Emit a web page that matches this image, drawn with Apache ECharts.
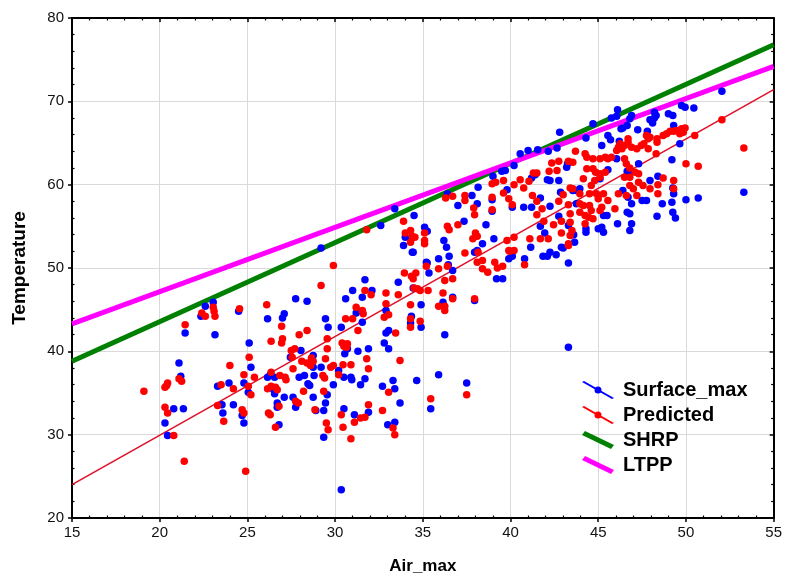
<!DOCTYPE html>
<html>
<head>
<meta charset="utf-8">
<script src="https://cdn.jsdelivr.net/npm/echarts@6/dist/echarts.min.js"></script>
<style>
html,body{margin:0;padding:0;background:#fff;}
#chart{width:785px;height:580px;}
</style>
</head>
<body>
<div id="chart"></div>
<script>
// Surface_max observations [Air_max, Temperature]
const surfaceMax = [
[20.3,31.4],[20.45,29.9],[20.8,33.1],[21.35,33.1],[21.1,38.6],[21.2,37.0],[21.45,42.2],[22.35,44.2],[22.6,45.4],[23.05,45.9],[23.15,42.0],[23.3,35.8],[23.95,36.2],[23.55,33.6],[23.6,32.6],[24.2,33.6],[24.7,32.3],[24.8,31.4],[24.8,36.2],[24.5,44.8],[25.1,41.0],[25.2,38.1],[25.05,35.1],
[26.15,43.9],[27.0,44.0],[27.1,44.5],[27.75,46.3],[28.4,46.0],[27.45,39.3],[28.05,40.1],[28.75,39.5],[28.75,38.1],[29.2,38.1],[26.15,36.9],[26.3,37.2],[26.55,36.9],[26.5,35.4],[26.55,34.9],[26.7,33.8],[26.7,33.3],[26.8,31.2],[27.1,34.5],[27.6,34.5],[27.75,33.3],[27.95,36.9],[28.25,37.1],[28.45,36.1],[28.55,35.9],[28.8,37.1],[28.75,34.5],[28.9,32.9],[29.35,32.9],[29.45,33.8],[29.55,34.8],[29.35,29.7],[29.9,36.0],[30.2,37.7],[30.5,36.9],[30.35,42.9],[30.6,46.3],[30.55,39.7],[30.5,33.1],[30.35,23.4],[29.45,43.9],[29.6,42.9],
[29.2,52.4],[31.7,48.6],[31.0,47.3],[32.1,47.3],
[31.55,46.5],[31.2,44.6],[31.55,43.5],[30.7,40.3],[31.3,40.0],[31.9,40.3],[30.9,36.9],[30.95,36.6],[31.45,36.0],[31.7,36.7],[31.1,32.4],[31.9,32.7],[32.7,35.8],[33.3,36.5],[33.4,35.5],[33.7,33.8],[33.0,31.2],[33.4,31.5],[34.65,36.5],[35.9,37.2],[35.45,33.1],[37.5,36.2],[32.8,41.0],[33.05,40.3],[32.9,42.2],[33.05,42.5],[32.9,44.9],[33.6,48.3],[34.45,51.9],[35.2,50.7],[35.35,49.4],[35.9,51.1],[36.5,51.4],[36.7,49.7],[34.45,47.6],[34.35,44.2],[34.3,43.4],[34.9,42.9],[34.9,45.6],[36.15,45.9],[36.7,46.5],[36.25,42.0],[37.95,46.1],[37.95,51.9],[38.1,52.1],[39.2,48.7],[39.55,48.7],[39.9,51.1],[40.1,51.4],[40.8,51.1],[41.15,52.5],[41.85,51.4],[42.1,51.4],[42.6,51.6],
[32.6,55.1],[33.4,57.1],[34.5,56.3],[35.1,54.9],[35.25,54.4],[33.9,52.7],[34.0,53.7],[34.4,51.9],[35.25,50.6],[36.35,52.5],[36.2,53.3],[36.45,50.4],[37.0,57.5],[37.35,55.6],[38.15,59.7],[37.8,58.7],[38.1,57.7],[38.95,58.2],[39.0,61.0],[39.5,61.6],[39.7,61.7],[40.2,62.3],[40.55,63.7],[41.0,64.1],[41.55,64.2],[42.15,64.0],[42.8,66.3],[42.65,64.4],[43.25,62.5],[38.6,55.2],[38.95,56.8],[39.05,53.5],[39.8,59.4],[40.1,57.3],[38.4,52.9],[42.25,51.9],[42.9,52.5],[40.75,57.3],[41.2,57.3],[41.7,58.4],[42.25,60.5],[42.75,60.5],[42.85,59.1],[42.25,57.4],[42.75,56.2],[43.3,55.1],[41.7,55.0],[41.95,54.2],[43.6,54.0],[41.2,60.8],[41.4,61.2],[42.1,60.6],[36.4,58.9],[34.35,53.5],
[52.05,71.2],[53.3,59.1],[49.75,69.5],[49.95,69.3],[50.45,69.2],[49.0,68.5],[49.25,68.3],[48.2,68.7],[48.3,68.3],[47.95,67.8],[48.1,67.4],[48.2,68.0],[49.3,67.1],[46.1,69.0],[46.05,68.2],[46.9,68.3],[46.8,67.9],[46.65,67.1],[46.4,66.8],[46.3,66.7],[47.25,66.6],[44.7,67.3],[45.75,68.0],[45.55,65.9],[45.7,65.4],[46.2,65.2],[44.3,65.6],[47.8,66.4],[49.65,64.9],[45.2,64.7],[49.2,63.0],[45.55,61.8],[46.65,61.6],[46.85,61.6],[45.1,60.7],[43.55,59.3],[47.3,62.5],[48.4,61.0],[49.25,59.6],[49.3,58.9],[47.95,60.5],[47.75,58.1],[47.5,58.1],[46.9,57.7],[46.4,59.3],[46.7,58.5],[48.65,57.7],[48.35,56.2],[49.2,57.9],[49.25,56.7],[49.4,56.0],[50.0,58.2],[50.7,58.4],[46.8,56.5],[46.65,56.7],[46.9,55.3],[46.8,54.5],[46.1,55.3],[45.3,56.3],[45.5,56.3],[43.75,59.3],[43.95,59.5],[45.0,54.7],[45.2,54.9],[45.3,54.3],[44.3,54.7],[44.3,54.3],[43.65,53.1],[46.05,63.1],[43.75,57.7],[43.2,62.1],[43.3,50.6],[43.3,40.5],[43.0,52.4]
];

// Predicted values [Air_max, Temperature]
const predicted = [
[19.1,35.2],[20.3,35.7],[20.45,36.2],[20.4,35.9],[20.3,33.3],[20.45,32.6],[20.8,29.9],[21.4,26.8],[21.1,36.7],[21.25,36.4],[21.45,43.2],[22.4,44.6],[22.6,44.2],[23.05,45.3],[23.15,44.2],[23.1,44.8],[23.5,36.0],[23.3,33.5],[23.65,31.6],[24.0,38.3],[24.2,35.5],[24.55,45.1],[24.9,25.6],[24.8,37.2],[24.7,33.0],[24.8,32.6],[25.1,39.3],[25.4,36.9],[25.05,35.8],[25.2,34.8],
[26.1,45.6],[26.35,41.2],[26.95,43.0],[27.0,41.5],[26.95,41.0],[27.95,42.0],[28.4,42.5],[26.35,37.5],[26.85,37.1],[27.15,36.9],[27.2,36.6],[26.15,35.5],[26.35,35.8],[26.6,35.7],[26.7,35.4],[26.8,33.4],[26.2,32.6],[26.3,32.4],[26.6,30.9],[27.5,40.1],[27.7,40.3],[27.55,39.3],[27.6,37.9],[28.1,38.8],[28.4,38.6],[28.6,38.3],[28.75,38.8],[28.65,39.2],[28.2,35.2],[27.75,34.0],[27.9,33.8],[28.85,33.0],[29.45,39.1],[29.55,40.3],[29.55,41.5],[29.3,37.1],[29.4,36.8],[29.75,38.1],[29.9,38.3],[30.2,37.2],[30.45,38.4],[30.5,40.6],[30.6,43.9],[29.35,35.2],[29.5,31.4],[29.6,30.6],[30.35,32.4],[30.45,30.9],[30.4,41.0],[30.65,40.5],
[29.9,50.3],[29.2,47.9],[31.8,54.6],
[31.0,43.9],[31.3,42.5],[31.2,45.3],[31.55,44.9],[31.6,44.5],[31.7,47.3],[32.05,46.8],[30.7,40.9],[30.9,38.4],[31.8,39.1],[31.9,37.9],[31.9,33.6],[31.7,32.1],[31.45,32.0],[31.1,31.5],[30.9,29.5],[32.7,32.9],[33.05,35.1],[33.3,30.8],[33.4,30.0],[33.7,38.9],[33.45,42.2],[32.8,44.1],[33.05,44.4],[32.9,45.7],[32.9,47.0],[33.6,46.8],[33.95,49.4],[34.35,49.0],[34.6,49.4],[34.45,48.7],[34.5,47.6],[34.7,47.5],[34.3,45.6],[34.3,43.9],[34.3,42.9],[34.85,43.6],[34.85,47.3],[35.3,47.3],[35.2,50.2],[35.9,49.9],[36.4,50.2],[36.25,48.5],[36.7,48.7],[36.15,47.0],[36.7,46.3],[35.9,45.4],[36.25,45.4],[36.25,44.9],[35.45,34.3],[37.5,34.8],[37.95,46.3],[37.4,51.8],[38.1,50.7],[38.4,50.9],[38.4,49.9],[39.1,50.7],[39.25,50.0],[39.55,50.2],[39.95,52.0],[40.2,52.1],[40.8,50.4],
[33.9,55.6],[34.0,54.2],[34.3,54.5],[34.4,53.8],[34.3,53.1],[34.55,53.7],[35.1,54.2],[35.1,53.3],[35.1,52.9],[36.3,58.4],[36.7,58.6],[36.4,55.0],[36.5,54.6],[37.0,55.2],[37.4,58.7],[37.4,58.1],[37.9,57.2],[37.95,56.4],[38.0,54.2],[38.1,53.8],[37.85,53.5],[38.15,51.9],[38.95,57.0],[38.95,58.5],[38.95,60.1],[39.15,60.3],[39.6,60.5],[39.6,59.0],[39.9,58.3],[40.1,57.6],[40.2,60.0],[40.55,60.6],[40.75,59.6],[41.05,60.4],[41.3,61.4],[41.5,61.4],[41.25,58.7],[41.5,58.0],[41.8,57.1],[42.2,61.6],[42.35,62.6],[42.75,62.8],[42.65,61.7],[43.3,62.8],[43.4,59.6],[43.0,58.8],[42.75,58.0],[43.3,57.6],[42.9,55.6],[42.45,55.2],[41.9,55.6],[41.5,56.4],[42.9,54.2],[43.3,52.9],[42.15,53.5],[41.7,53.5],[41.1,53.5],[40.2,53.7],[39.8,53.3],[39.9,52.1],[38.7,49.5],
[52.05,67.8],[53.3,64.4],[50.0,62.5],[50.7,62.2],[50.5,65.9],[49.75,66.7],[49.95,66.8],[49.85,66.3],[49.65,66.1],[49.45,66.5],[49.3,66.4],[49.1,66.4],[48.9,66.1],[48.7,65.9],[48.35,65.5],[48.35,65.1],[47.95,65.7],[47.75,65.9],[47.85,65.5],[47.45,64.7],[48.3,63.7],[48.7,60.8],[48.4,60.0],[49.3,60.5],[49.3,59.5],[48.4,58.9],[47.95,59.5],[47.55,59.9],[47.3,60.3],[46.8,59.9],[47.0,59.5],[46.15,58.9],[46.6,58.7],[47.2,58.7],[45.3,58.9],[45.55,58.1],[45.0,58.3],[45.2,57.3],[45.95,57.1],[46.25,64.9],[46.15,64.5],[46.35,64.3],[46.5,64.7],[46.7,65.5],[46.7,65.1],[46.9,64.5],[47.2,64.3],[46.05,64.1],[45.75,63.3],[45.4,63.3],[45.55,63.1],[45.1,63.1],[44.7,63.1],[44.35,63.3],[44.25,63.7],[43.7,64.0],[43.55,62.7],[44.35,61.9],[44.7,61.9],[44.85,61.5],[45.1,61.3],[45.4,61.5],[45.1,60.9],[44.8,60.5],[44.15,60.7],[46.5,63.1],[46.6,62.5],[46.8,62.0],[47.1,61.5],[47.3,61.3],[46.8,60.9],[46.5,60.9],[47.85,64.3],[47.6,64.9],[43.55,59.5],[43.95,58.9],[44.6,59.9],[44.5,58.9],[44.9,58.9],[43.95,57.7],[44.15,57.5],[44.5,57.5],[44.6,56.9],[45.1,56.9],[44.45,56.1],[44.7,55.9],[43.95,56.7],[44.25,56.3],[43.4,56.5],[43.4,55.5],[44.25,55.3],[43.5,54.5],[43.4,53.9],[43.3,52.7]
];

// Fitted / reference lines (end points)
const predictedFitX = [15, 55];
const predictedFitY = [24.0, 71.4];
const shrpX = [15, 55];
const shrpY = [38.8, 76.8];
const ltppX = [15, 55];
const ltppY = [43.3, 74.2];

const xTicks = { min: 15, max: 55, step: 5 };
const yTicks = { min: 20, max: 80, step: 10 };

const zip = (xs, ys) => xs.map((x, i) => [x, ys[i]]);

const FONT = '"Liberation Sans", Arial, sans-serif';
const iconDot = 'path://M0,0 L2,-1 L32,16 L30,17 Z M12.5,8 a3.5,3.5 0 1,1 7,0 a3.5,3.5 0 1,1 -7,0 Z';
const iconThick = 'path://M0,4 L3,0 L32,14 L29,18 Z';

const chart = echarts.init(document.getElementById('chart'), null, { renderer: 'canvas' });

const axisLineStyle = { show: true, lineStyle: { color: '#000', width: 2 } };

chart.setOption({
  animation: false,
  backgroundColor: '#fff',
  grid: { left: 72, right: 8, top: 18, bottom: 58, containLabel: false },
  xAxis: [
    {
      type: 'value', min: xTicks.min, max: xTicks.max, interval: xTicks.step, position: 'bottom',
      axisLine: axisLineStyle,
      axisTick: { show: true, inside: false, length: 4, lineStyle: { color: '#000', width: 1.5 } },
      minorTick: { show: false },
      axisLabel: { show: true, color: '#111', fontSize: 15, fontFamily: FONT, margin: 7 },
      splitLine: { show: true, lineStyle: { color: '#d9d9d9', width: 1 } },
      name: 'Air_max', nameLocation: 'middle', nameGap: 40,
      nameTextStyle: { color: '#000', fontSize: 17, fontWeight: 'bold', fontFamily: FONT }
    },
    {
      type: 'value', min: xTicks.min, max: xTicks.max, interval: xTicks.step, position: 'top',
      axisLine: axisLineStyle,
      axisTick: { show: true, inside: true, length: 4, lineStyle: { color: '#000', width: 1.5 } },
      minorTick: { show: true, splitNumber: 5, length: 2.5, lineStyle: { color: '#000', width: 1.2 } },
      axisLabel: { show: false }, splitLine: { show: false }
    },
    {
      type: 'value', min: xTicks.min, max: xTicks.max, interval: xTicks.step, position: 'bottom',
      axisLine: { show: false },
      axisTick: { show: false, inside: true },
      minorTick: { show: true, splitNumber: 5, length: 2.5, lineStyle: { color: '#000', width: 1.2 } },
      axisLabel: { show: false }, splitLine: { show: false }
    }
  ],
  yAxis: [
    {
      type: 'value', min: yTicks.min, max: yTicks.max, interval: yTicks.step, position: 'left',
      axisLine: axisLineStyle,
      axisTick: { show: true, inside: false, length: 4, lineStyle: { color: '#000', width: 1.5 } },
      minorTick: { show: false },
      axisLabel: { show: true, color: '#111', fontSize: 15, fontFamily: FONT, margin: 8 },
      splitLine: { show: true, lineStyle: { color: '#d9d9d9', width: 1 } },
      name: 'Temperature', nameLocation: 'middle', nameGap: 43, nameRotate: 90,
      nameTextStyle: { color: '#000', fontSize: 19, fontWeight: 'bold', fontFamily: FONT }
    },
    {
      type: 'value', min: yTicks.min, max: yTicks.max, interval: yTicks.step, position: 'right',
      axisLine: axisLineStyle,
      axisTick: { show: true, inside: true, length: 4, lineStyle: { color: '#000', width: 1.5 } },
      minorTick: { show: true, splitNumber: 5, length: 2.5, lineStyle: { color: '#000', width: 1.2 } },
      axisLabel: { show: false }, splitLine: { show: false }
    },
    {
      type: 'value', min: yTicks.min, max: yTicks.max, interval: yTicks.step, position: 'left',
      axisLine: { show: false },
      axisTick: { show: false, inside: true },
      minorTick: { show: true, splitNumber: 5, length: 2.5, lineStyle: { color: '#000', width: 1.2 } },
      axisLabel: { show: false }, splitLine: { show: false }
    }
  ],
  legend: {
    orient: 'vertical', left: 582, top: 380, padding: 0,
    itemWidth: 32, itemHeight: 18, itemGap: 5,
    textStyle: { color: '#000', fontSize: 20, fontWeight: 'bold', fontFamily: FONT, lineHeight: 20, padding: [0, 0, 0, 4] },
    data: [
      { name: 'Surface_max', icon: iconDot },
      { name: 'Predicted', icon: iconDot },
      { name: 'SHRP', icon: iconThick },
      { name: 'LTPP', icon: iconThick }
    ]
  },
  series: [
    {
      name: 'SHRP', type: 'line', data: zip(shrpX, shrpY), symbol: 'none', z: 2,
      itemStyle: { color: '#008000' }, lineStyle: { color: '#008000', width: 5 }
    },
    {
      name: 'LTPP', type: 'line', data: zip(ltppX, ltppY), symbol: 'none', z: 2,
      itemStyle: { color: '#ff00ff' }, lineStyle: { color: '#ff00ff', width: 5 }
    },
    {
      name: 'Predicted fit', type: 'line', data: zip(predictedFitX, predictedFitY), symbol: 'none', z: 2,
      itemStyle: { color: '#e0102a' }, lineStyle: { color: '#e0102a', width: 1.6 }
    },
    {
      name: 'Surface_max', type: 'scatter', data: surfaceMax, symbol: 'circle', symbolSize: 7.5, z: 3,
      itemStyle: { color: '#0000ff', opacity: 1 }
    },
    {
      name: 'Predicted', type: 'scatter', data: predicted, symbol: 'circle', symbolSize: 7.5, z: 4,
      itemStyle: { color: '#ff0000', opacity: 1 }
    }
  ]
});
</script>
</body>
</html>
